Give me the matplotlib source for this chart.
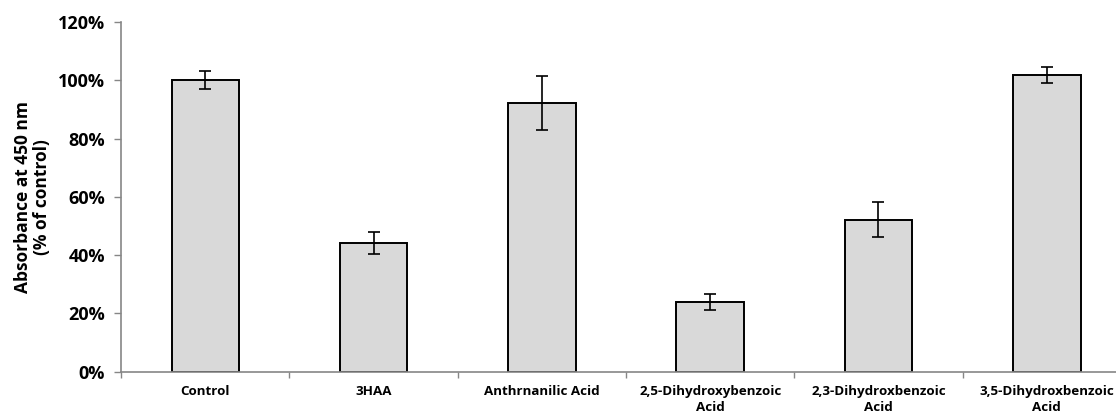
import matplotlib
matplotlib.use("Agg")
import matplotlib.pyplot as plt
import numpy as np
from matplotlib.ticker import PercentFormatter

# Absorbance at 450 nm relative to the untreated control
labels = ['Control', '3HAA', 'Anthrnanilic Acid', '2,5-Dihydroxybenzoic\nAcid',
          '2,3-Dihydroxbenzoic\nAcid', '3,5-Dihydroxbenzoic\nAcid']
means = [100.0, 44.2, 92.3, 24.0, 52.1, 101.9]
errors = [3.1, 3.7, 9.2, 2.7, 6.0, 2.8]

plt.rcParams['font.family'] = ['Open Sans', 'DejaVu Sans']
plt.rcParams['font.weight'] = 'bold'

W, H = 1116, 419
fig = plt.figure(figsize=(W / 100, H / 100), dpi=100)
# axis runs a little past the right edge of the canvas
ax = fig.add_axes([121 / W, (H - 371.7) / H, 1010 / W, 349.7 / H])

x = np.arange(len(labels))
ax.bar(x, means, width=0.4, color='#d9d9d9', edgecolor='black', linewidth=1.4, zorder=2)
ax.errorbar(x, means, yerr=errors, fmt='none', ecolor='black', elinewidth=1.2,
            capsize=4.2, capthick=1.2, zorder=3)

ax.set_xlim(-0.5, len(labels) - 0.5)
ax.set_ylim(0, 120)
ax.set_yticks(np.arange(0, 121, 20))
ax.yaxis.set_major_formatter(PercentFormatter(decimals=0))

ax.set_xticks(x)
ax.set_xticklabels(labels, fontsize=9.6, fontweight='bold', linespacing=1.35)
ax.set_xticks(np.arange(-0.5, len(labels)), minor=True)
ax.tick_params(axis='x', which='major', length=0, pad=9.5)
ax.tick_params(axis='x', which='minor', length=4, color='#868686', width=1)
ax.tick_params(axis='y', length=5, color='#868686', width=1, labelsize=13, pad=6.5)
for t in ax.get_yticklabels():
    t.set_fontweight('bold')

for side in ['top', 'right']:
    ax.spines[side].set_visible(False)
for side in ['left', 'bottom']:
    ax.spines[side].set_color('#868686')
    ax.spines[side].set_linewidth(1.2)

ax.set_ylabel('Absorbance at 450 nm\n(% of control)', fontsize=12.5, fontweight='bold',
              linespacing=1.1, labelpad=5)

fig.savefig('out.png', dpi=100)
